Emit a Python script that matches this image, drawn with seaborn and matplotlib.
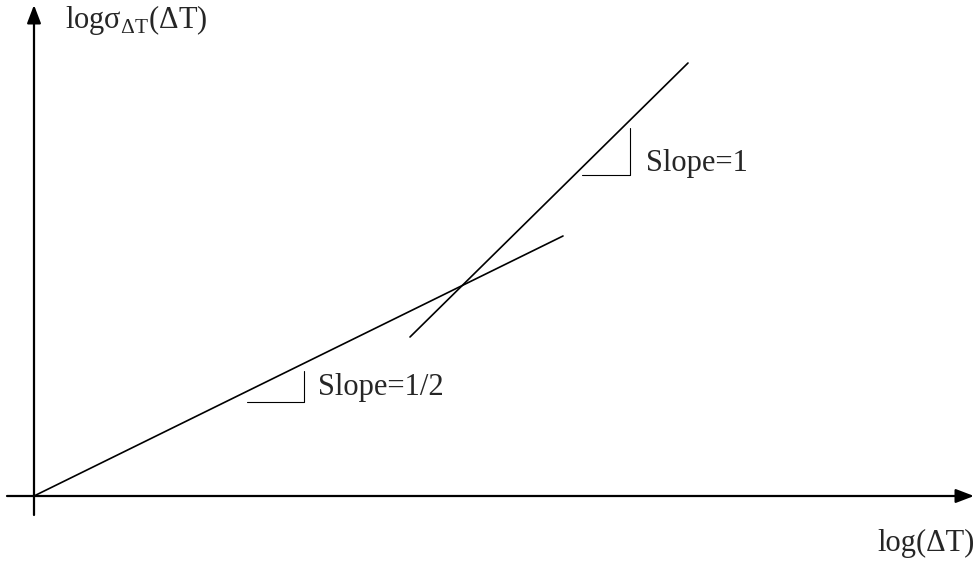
import matplotlib
matplotlib.use("Agg")
import matplotlib.pyplot as plt
import seaborn as sns
import pandas as pd

# Log-log sketch: two asymptotic regimes of sigma(dT)
half_slope_x = [0.0, 52.9]
half_slope_y = [0.0, 26.0]
unit_slope_x = [37.6, 65.4]
unit_slope_y = [15.9, 43.3]

slope_labels = ["Slope=1/2", "Slope=1"]
y_label = "logσ$_\\mathregular{ΔT}$(ΔT)"
x_label = "log(ΔT)"

sns.set_theme(style="white")
plt.rcParams["font.family"] = ["Liberation Serif", "DejaVu Serif"]

fig = plt.figure(figsize=(9.79, 5.62), dpi=100)
ax = fig.add_axes([0, 0, 1, 1])
ax.set_xlim(-3.4, 94.5)
ax.set_ylim(-6.6, 49.6)
ax.axis("off")

df = pd.concat([
    pd.DataFrame({"x": half_slope_x, "y": half_slope_y, "regime": "half"}),
    pd.DataFrame({"x": unit_slope_x, "y": unit_slope_y, "regime": "unit"}),
])
sns.lineplot(data=df, x="x", y="y", units="regime", estimator=None,
             color="black", lw=1.2, ax=ax, legend=False)

# Axes with arrowheads
arrow = dict(arrowstyle="-|>,head_length=11,head_width=4.2", lw=1.6,
             color="black", mutation_scale=1, shrinkA=0, shrinkB=0)
ax.annotate("", xy=(94.0, 0), xytext=(-2.7, 0), arrowprops=arrow)
ax.annotate("", xy=(0, 49.1), xytext=(0, -1.9), arrowprops=arrow)

# Slope markers
ax.plot([21.3, 27.0, 27.0], [9.4, 9.4, 12.5], color="black", lw=0.8)
ax.plot([54.8, 59.6, 59.6], [32.1, 32.1, 36.8], color="black", lw=0.8)

ax.text(28.4, 10.8, slope_labels[0], fontsize=22, va="center", ha="left")
ax.text(61.2, 33.3, slope_labels[1], fontsize=22, va="center", ha="left")

ax.text(3.1, 47.6, y_label, fontsize=22, va="center", ha="left")
ax.text(94.1, -4.7, x_label, fontsize=22, va="center", ha="right")

fig.savefig("out.png", dpi=100, facecolor="white")
